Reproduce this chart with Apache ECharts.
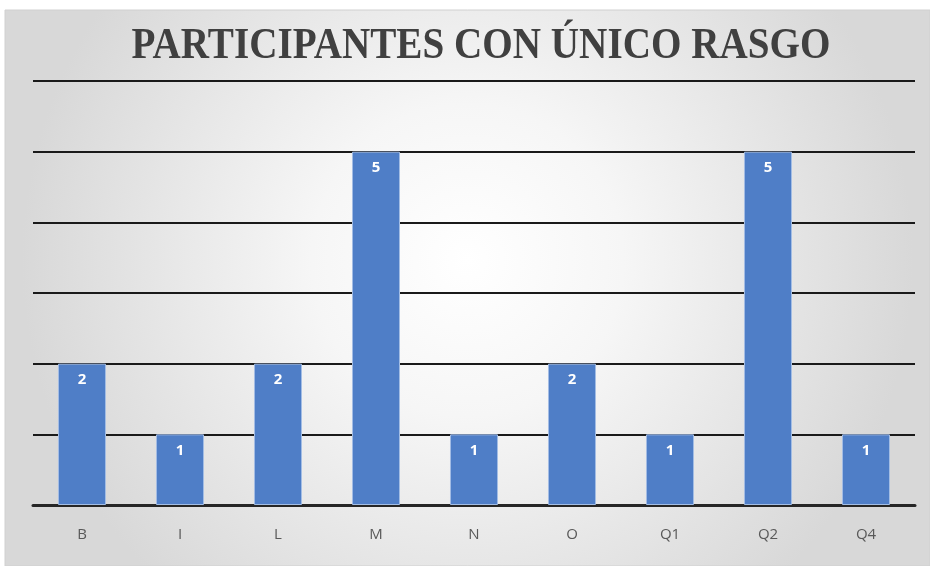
<!DOCTYPE html>
<html><head><meta charset="utf-8">
<script src="https://cdn.jsdelivr.net/npm/echarts@6/dist/echarts.min.js"></script>
<style>html,body{margin:0;padding:0;background:#fff;}#c{width:930px;height:566px;}</style>
</head><body><div id="c"></div>
<script>
const categories = ['B','I','L','M','N','O','Q1','Q2','Q4'];
const values = [2,1,2,5,1,2,1,5,1];
const titleText = 'PARTICIPANTES CON ÚNICO RASGO';

const chart = echarts.init(document.getElementById('c'));
chart.setOption({
  animation:false,
  backgroundColor:'#ffffff',
  graphic:[
    {type:'rect', z:-10, shape:{x:5,y:10,width:925,height:556},
     style:{fill:new echarts.graphic.RadialGradient(0.5,0.45,0.8,[
       {offset:0,color:'#ffffff'},{offset:0.35,color:'#f6f6f6'},{offset:1,color:'#d8d8d8'}]), stroke:'#d0d0d0', lineWidth:1}},
    {type:'text', x:481, y:47, scaleX:0.89, z:10,
     style:{x:0, y:0, text:titleText, textAlign:'center', textVerticalAlign:'middle',
       font:'bold 44px "Liberation Serif", "Times New Roman", serif', fill:'#404040'}}
  ],
  grid:{left:33,right:15,top:81,bottom:61},
  xAxis:{type:'category',data:categories,
    axisLine:{show:true,lineStyle:{color:'#262626',width:3}},
    axisTick:{show:false},
    axisLabel:{color:'#595959',fontSize:15,fontFamily:'"Open Sans", "Liberation Sans", sans-serif',margin:22}},
  yAxis:{type:'value',min:0,max:6,interval:1,
    axisLabel:{show:false},axisLine:{show:false},axisTick:{show:false},
    splitLine:{lineStyle:{color:'#1a1a1a',width:2}}},
  series:[{type:'bar',data:values,barWidth:'49%',
    itemStyle:{color:'#4f7ec7',borderColor:'#a3bde4',borderWidth:1},
    label:{show:true,position:'insideTop',distance:9,color:'#ffffff',fontWeight:'bold',fontSize:15,
      fontFamily:'"Open Sans", "Liberation Sans", sans-serif'}}]
});
</script></body></html>
